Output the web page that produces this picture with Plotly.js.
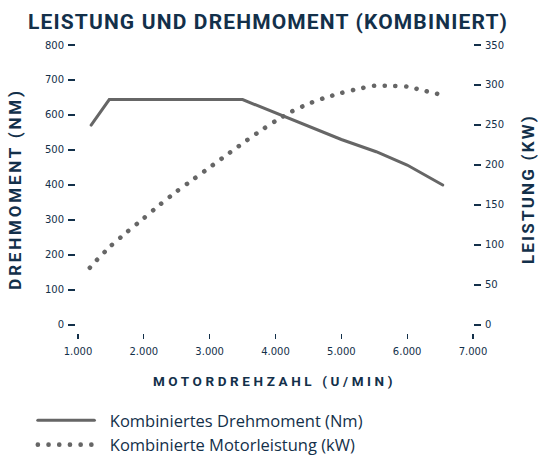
<!DOCTYPE html>
<html>
<head>
<meta charset="utf-8">
<script src="https://cdn.plot.ly/plotly-3.0.1.min.js"></script>
<style>
html,body{margin:0;padding:0;background:#fff;}
#chart{width:538px;height:455px;}
.gtitle{letter-spacing:1.15px;}
.xtitle{letter-spacing:3.6px;}
.ytitle{letter-spacing:2.8px;}
.y2title{letter-spacing:2.2px;}
</style>
</head>
<body>
<div id="chart"></div>
<script>
// Torque (Nm) vs engine speed (rpm)
var torqueRpm = [1200, 1475, 3500, 5000, 5530, 6000, 6540];
var torqueNm  = [571, 644, 644, 530, 495, 457, 400];
// Power (kW) vs engine speed (rpm)
var powerRpm = [1180, 1250, 1500, 1750, 2000, 2250, 2500, 2750, 3000, 3250, 3500, 3750, 4000, 4250, 4500, 4750, 5000, 5250, 5500, 5750, 6000, 6250, 6530];
var powerKw  = [71.5, 78, 99, 116.5, 133.5, 150.8, 167, 182, 197, 212, 227, 241.5, 255, 267, 276.5, 284, 290, 295, 299, 299, 298, 293, 287.5];
// Axis ticks
var xTicks = [1000, 2000, 3000, 4000, 5000, 6000, 7000];
var yTicks = [0, 100, 200, 300, 400, 500, 600, 700, 800];
var y2Ticks = [0, 50, 100, 150, 200, 250, 300, 350];
var legendNames = ['Kombiniertes Drehmoment (Nm)', 'Kombinierte Motorleistung (kW)'];

var navy = '#13304a';
var grey = '#666666';

var traces = [
  {x: torqueRpm, y: torqueNm, type: 'scatter', mode: 'lines', name: legendNames[0],
   line: {color: grey, width: 3}, yaxis: 'y'},
  {x: powerRpm, y: powerKw, type: 'scatter', mode: 'lines', name: legendNames[1],
   line: {color: grey, width: 4.6, dash: '0.1px,10.6px', shape: 'spline', smoothing: 0.5}, yaxis: 'y2'}
];

var tickFont = {family: '"DejaVu Sans", sans-serif', size: 10, color: navy};

var layout = {
  width: 538, height: 455,
  margin: {l: 76, r: 65, t: 45, b: 122, autoexpand: false},
  paper_bgcolor: '#fff', plot_bgcolor: '#fff',
  separators: ',.',
  showlegend: true,
  title: {text: 'LEISTUNG UND DREHMOMENT (KOMBINIERT)', x: 268 / 538, xanchor: 'center',
          xref: 'container', yref: 'container', y: 1 - 29 / 455, yanchor: 'bottom',
          font: {family: 'Roboto, sans-serif', size: 21, color: navy, weight: 700}},
  xaxis: {range: [970, 7000], tickvals: xTicks, tickformat: ',d', showgrid: false, zeroline: false,
          showline: false, ticks: 'outside', ticklen: 5, tickwidth: 1.3, tickcolor: navy, tickfont: tickFont,
          ticklabelstandoff: 4,
          title: {text: 'MOTORDREHZAHL (U/MIN)', standoff: 20,
                  font: {family: 'Roboto, sans-serif', size: 13.5, color: navy, weight: 700}}},
  yaxis: {range: [-23, 800], tickvals: yTicks, showgrid: false, zeroline: false, showline: false,
          ticks: 'outside', ticklen: 7, tickwidth: 1.3, tickcolor: navy, tickfont: tickFont,
          ticklabelstandoff: 2,
          title: {text: 'DREHMOMENT (NM)', standoff: 18,
                  font: {family: 'Roboto, sans-serif', size: 17, color: navy, weight: 700}}},
  yaxis2: {range: [-23 * 350 / 800, 350], tickvals: y2Ticks, overlaying: 'y', side: 'right',
           showgrid: false, zeroline: false, showline: false,
           ticks: 'outside', ticklen: 7, tickwidth: 1.3, tickcolor: navy, tickfont: tickFont,
           ticklabelstandoff: 2,
           title: {text: 'LEISTUNG (KW)', standoff: 21,
                   font: {family: 'Roboto, sans-serif', size: 17, color: navy, weight: 700}}},
  legend: {x: (32.8 - 76) / 397, xanchor: 'left', y: -0.243, yanchor: 'top', bgcolor: 'rgba(0,0,0,0)',
           font: {family: '"Open Sans", sans-serif', size: 16.5, color: navy}, tracegroupgap: 0, itemwidth: 67}
};

function finish(gd) {
  // round dots for the dotted power curve
  gd.querySelectorAll('.scatterlayer .trace path.js-line').forEach(function(p){ p.style.strokeLinecap = 'round'; });
  // longer legend samples
  gd.querySelectorAll('.legend .legendlines path').forEach(function(p){
    p.setAttribute('d', 'M5,0h56.6'); p.style.strokeLinecap = 'round';
  });
}

Plotly.newPlot('chart', traces, layout, {displayModeBar: false, staticPlot: true}).then(function(gd){
  finish(gd);
});
</script>
</body>
</html>
